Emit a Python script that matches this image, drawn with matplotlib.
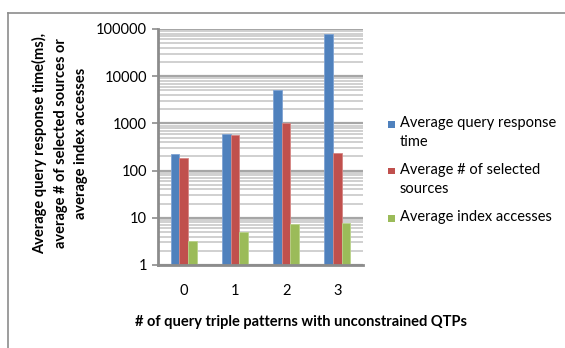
import matplotlib
matplotlib.use("Agg")
import matplotlib.pyplot as plt
from matplotlib.lines import Line2D
from matplotlib.patches import Rectangle
import numpy as np

categories = ["0", "1", "2", "3"]
response_time = [223, 583, 5140, 77100]
selected_sources = [184, 580, 1000, 241]
index_accesses = [3.2, 4.9, 7.3, 7.8]
series_names = ["Average query response\ntime", "Average # of selected\nsources", "Average index accesses"]
colors = ["#4F81BD", "#C0504D", "#9BBB59"]
edge_colors = ["#7FA3D3", "#D58583", "#B9D38A"]
y_ticks = [1, 10, 100, 1000, 10000, 100000]

plt.rcParams['font.family'] = ['Lato', 'DejaVu Sans']

W, H = 565, 348
fig = plt.figure(figsize=(W / 100, H / 100), dpi=100)
ax = fig.add_axes([158 / W, 1 - 265 / H, (363 - 158) / W, (265 - 29) / H])

x = np.arange(len(categories))
bw = 0.17
series = [response_time, selected_sources, index_accesses]
for i, (vals, c, ec, name) in enumerate(zip(series, colors, edge_colors, series_names)):
    ax.bar(x + (i - 1) * bw, vals, width=bw, color=c, edgecolor=ec, linewidth=0.6,
           label=name, zorder=3)

ax.set_yscale('log')
ax.set_ylim(1, 100000)
ax.set_xlim(-0.5, len(categories) - 0.5)
ax.set_yticks(y_ticks)
ax.set_yticklabels([str(t) for t in y_ticks])
ax.set_xticks(x)
ax.set_xticklabels(categories)
ax.yaxis.set_minor_locator(matplotlib.ticker.LogLocator(base=10, subs=np.arange(2, 10)))
ax.yaxis.set_minor_formatter(matplotlib.ticker.NullFormatter())
ax.grid(True, which='major', axis='y', color='#a6a6a6', linewidth=1.6, zorder=0)
ax.grid(True, which='minor', axis='y', color='#c4c4c4', linewidth=1.1, zorder=0)
ax.tick_params(axis='y', which='major', length=4, width=1.2, color='#8c8c8c',
               labelsize=10.5, pad=4)
ax.tick_params(axis='y', which='minor', length=0)
ax.tick_params(axis='x', length=0, labelsize=10.5, pad=14)
for s in ['top', 'right']:
    ax.spines[s].set_visible(False)
for s in ['left', 'bottom']:
    ax.spines[s].set_color('#8c8c8c')
    ax.spines[s].set_linewidth(2)
    ax.spines[s].set_zorder(4)

fig.text(60 / W, 1 - 143 / H,
         "Average query response time(ms),\naverage # of selected sources or\naverage index accesses",
         rotation=90, ha='center', va='center', multialignment='center',
         fontsize=10.5, fontweight='bold', linespacing=1.6)
fig.text(301 / W, 1 - 322 / H, "# of query triple patterns with unconstrained QTPs",
         ha='center', va='center', fontsize=10.5, fontweight='bold')

# legend (handle aligned with first line of each label, as in the original)
first_line_centers = [124, 171, 218]
for name, c, yc in zip(series_names, colors, first_line_centers):
    fig.add_artist(Rectangle((388 / W, 1 - (yc + 3.5) / H), 7 / W, 7 / H,
                             transform=fig.transFigure, facecolor=c, edgecolor='none'))
    fig.text(400 / W, 1 - (yc - 8) / H, name, ha='left', va='top',
             fontsize=10.5, linespacing=1.45)

# chart-area border
fig.add_artist(Line2D([8 / W, 8 / W], [0, 1 - 13 / H], transform=fig.transFigure,
                      color='#8c8c8c', linewidth=1.2))
fig.add_artist(Line2D([8 / W, 1], [1 - 13 / H, 1 - 13 / H], transform=fig.transFigure,
                      color='#8c8c8c', linewidth=1.2))

fig.savefig("out.png", dpi=100)
